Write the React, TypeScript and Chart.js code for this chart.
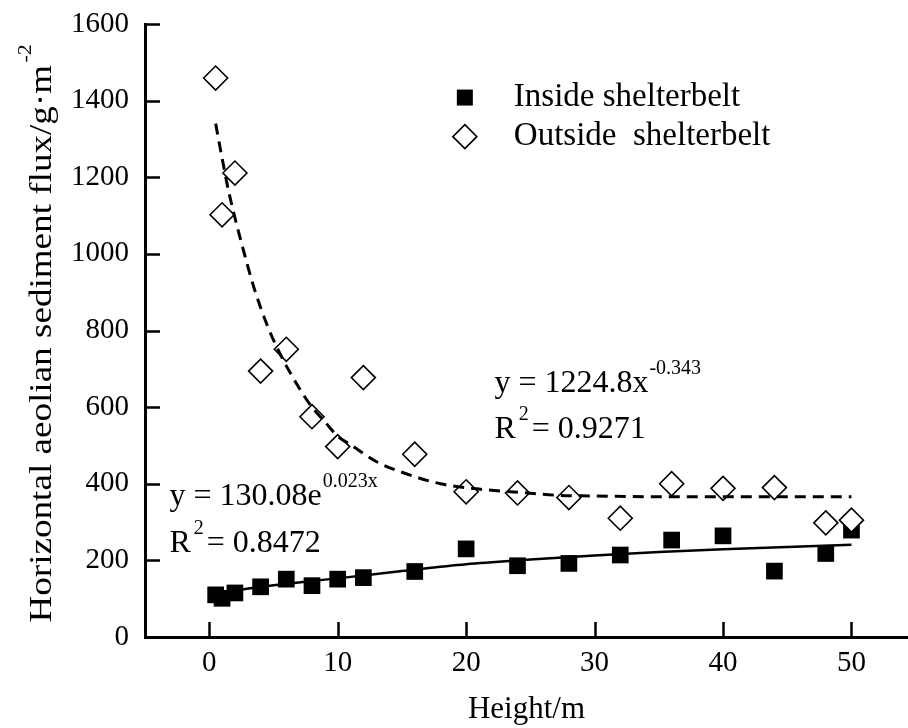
import React, { useEffect, useRef } from "react";
import { Chart, registerables } from "chart.js";

Chart.register(...registerables);

// ---------- data ----------
const HEIGHTS_INSIDE = [0.5, 1, 2, 4, 6, 8, 10, 12, 16, 20, 24, 28, 32, 36, 40, 44, 48, 50];
const FLUX_INSIDE = [110, 101, 115, 131, 151, 134, 151, 155, 171, 230, 186, 192, 214, 253, 264, 172, 218, 279];

const HEIGHTS_OUTSIDE = [0.5, 1, 2, 4, 6, 8, 10, 12, 16, 20, 24, 28, 32, 36, 40, 44, 48, 50];
const FLUX_OUTSIDE = [1459, 1102, 1211, 694, 751, 575, 497, 677, 477, 379, 376, 364, 310, 400, 388, 390, 298, 305];

// trend curves as drawn in the figure
const FIT_INSIDE_X = [0.5, 5, 10, 15, 20, 25, 30, 35, 40, 45, 50];
const FIT_INSIDE_Y = [114, 135, 153, 172, 190, 202, 213, 222, 229, 235, 241];
const FIT_OUTSIDE_X = [0.5, 1, 1.5, 2.5, 3.5, 4.5, 5.5, 7, 8, 9, 10, 11, 13, 15, 18, 21, 24, 27, 30, 35, 40, 50];
const FIT_OUTSIDE_Y = [1340, 1250, 1165, 1030, 910, 815, 740, 650, 600, 562, 524, 502, 458, 430, 400, 386, 378, 370, 368, 366, 366, 366];

const X_TICKS = [0, 10, 20, 30, 40, 50];
const Y_TICKS = [0, 200, 400, 600, 800, 1000, 1200, 1400, 1600];

const LEGEND_LABELS = ["Inside shelterbelt", "Outside  shelterbelt"];
const Y_TITLE = "Horizontal aeolian sediment flux/g\u00b7m";
const Y_TITLE_SUP = "-2";
const X_TITLE = "Height/m";
const EQ_INSIDE = { main: "y = 130.08e", sup: "0.023x", r2: "0.8472" };
const EQ_OUTSIDE = { main: "y = 1224.8x", sup: "-0.343", r2: "0.9271" };

const FONT = "'Liberation Serif', 'Times New Roman', serif";

const toPts = (xs: number[], ys: number[]) => xs.map((x, i) => ({ x, y: ys[i] }));

const decorPlugin = {
  id: "decor",
  afterDraw(chart: any) {
    const ctx = chart.ctx as CanvasRenderingContext2D;
    const xs = chart.scales.x;
    const ys = chart.scales.y;
    const area = chart.chartArea;
    ctx.save();
    // inward tick marks
    ctx.strokeStyle = "#000";
    ctx.lineWidth = 2.5;
    ctx.beginPath();
    Y_TICKS.forEach((v) => {
      const py = Math.round(ys.getPixelForValue(v)) + 0.5;
      ctx.moveTo(area.left, py);
      ctx.lineTo(area.left + 15, py);
    });
    X_TICKS.forEach((v) => {
      const px = Math.round(xs.getPixelForValue(v)) + 0.5;
      ctx.moveTo(px, area.bottom);
      ctx.lineTo(px, area.bottom - 15);
    });
    ctx.stroke();

    ctx.fillStyle = "#000";
    // y title with superscript (slightly stretched along its length like the source)
    ctx.save();
    const stretch = 1.16;
    ctx.font = `32px ${FONT}`;
    const mainW = ctx.measureText(Y_TITLE).width;
    ctx.font = `19px ${FONT}`;
    const supW = ctx.measureText(Y_TITLE_SUP).width;
    ctx.translate(40, (area.top + area.bottom) / 2 + 4);
    ctx.rotate(-Math.PI / 2);
    ctx.scale(stretch, 1);
    ctx.textBaseline = "alphabetic";
    ctx.textAlign = "left";
    const start = -(mainW + supW) / 2;
    ctx.font = `32px ${FONT}`;
    ctx.fillText(Y_TITLE, start, 11);
    ctx.font = `19px ${FONT}`;
    ctx.fillText(Y_TITLE_SUP, start + mainW + 2, -9);
    ctx.restore();

    // equations
    const drawEq = (eq: any, xv: number, yv: number, yv2: number) => {
      const px = xs.getPixelForValue(xv);
      const py = ys.getPixelForValue(yv);
      const py2 = ys.getPixelForValue(yv2);
      ctx.textAlign = "left";
      ctx.textBaseline = "alphabetic";
      ctx.font = `32px ${FONT}`;
      ctx.fillText(eq.main, px, py);
      const w = ctx.measureText(eq.main).width;
      ctx.font = `20px ${FONT}`;
      ctx.fillText(eq.sup, px + w + 1, py - 18);
      ctx.font = `32px ${FONT}`;
      ctx.fillText("R", px, py2);
      const rw = ctx.measureText("R").width;
      ctx.font = `20px ${FONT}`;
      ctx.fillText("2", px + rw + 3, py2 - 18);
      ctx.font = `32px ${FONT}`;
      ctx.fillText("= " + eq.r2, px + rw + 16, py2);
    };
    drawEq(EQ_INSIDE, -3.1, 344, 222);
    drawEq(EQ_OUTSIDE, 22.2, 640, 520);

    // legend
    const lx = xs.getPixelForValue(19.9);
    const ly1 = ys.getPixelForValue(1408);
    const ly2 = ys.getPixelForValue(1306);
    const ds0 = chart.data.datasets[0];
    const ds1 = chart.data.datasets[1];
    ctx.fillStyle = ds0.backgroundColor;
    ctx.fillRect(lx - 8, ly1 - 8, 16, 16);
    ctx.beginPath();
    ctx.moveTo(lx, ly2 - 12);
    ctx.lineTo(lx + 12, ly2);
    ctx.lineTo(lx, ly2 + 12);
    ctx.lineTo(lx - 12, ly2);
    ctx.closePath();
    ctx.fillStyle = ds1.backgroundColor;
    ctx.fill();
    ctx.strokeStyle = ds1.borderColor;
    ctx.lineWidth = ds1.borderWidth;
    ctx.stroke();
    ctx.fillStyle = "#000";
    ctx.font = `33px ${FONT}`;
    ctx.textBaseline = "middle";
    ctx.fillText(LEGEND_LABELS[0], lx + 49, ly1);
    ctx.fillText(LEGEND_LABELS[1], lx + 49, ly2);
    ctx.restore();
  },
};

export default function App() {
  const ref = useRef<HTMLCanvasElement | null>(null);
  useEffect(() => {
    document.body.style.margin = "0";
    const canvas = ref.current;
    if (!canvas) return;
    const chart = new Chart(canvas, {
      type: "scatter",
      data: {
        datasets: [
          {
            label: LEGEND_LABELS[0],
            data: toPts(HEIGHTS_INSIDE, FLUX_INSIDE),
            pointStyle: "rect",
            pointRadius: 11.8,
            backgroundColor: "#000",
            borderColor: "#000",
            borderWidth: 0,
            order: 4,
          },
          {
            label: LEGEND_LABELS[1],
            data: toPts(HEIGHTS_OUTSIDE, FLUX_OUTSIDE),
            pointStyle: "rectRot",
            pointRadius: 12,
            backgroundColor: "#fff",
            borderColor: "#000",
            borderWidth: 1.6,
            order: 3,
          },
          {
            type: "line",
            label: "fit inside",
            data: toPts(FIT_INSIDE_X, FIT_INSIDE_Y),
            borderColor: "#000",
            borderWidth: 2.5,
            pointRadius: 0,
            showLine: true,
            cubicInterpolationMode: "monotone",
            fill: false,
            order: 2,
          } as any,
          {
            type: "line",
            label: "fit outside",
            data: toPts(FIT_OUTSIDE_X, FIT_OUTSIDE_Y),
            borderColor: "#000",
            borderWidth: 3,
            borderDash: [11, 7],
            pointRadius: 0,
            showLine: true,
            cubicInterpolationMode: "monotone",
            fill: false,
            order: 1,
          } as any,
        ],
      },
      options: {
        responsive: false,
        animation: false,
        devicePixelRatio: 1,
        layout: { autoPadding: false, padding: { top: 24, right: 0, left: 0, bottom: 0 } },
        plugins: {
          legend: { display: false },
          tooltip: { enabled: false },
          title: { display: false },
        },
        scales: {
          x: {
            type: "linear",
            min: -5,
            max: 54.4,
            afterBuildTicks: (s: any) => {
              s.ticks = X_TICKS.map((v) => ({ value: v }));
            },
            afterFit: (s: any) => {
              s.height = 91;
              s.paddingLeft = 0;
              s.paddingRight = 0;
            },
            grid: { display: false, drawTicks: false },
            border: { display: true, color: "#000", width: 3 },
            ticks: {
              padding: 9,
              color: "#000",
              font: { family: FONT, size: 29 },
              maxRotation: 0,
              autoSkip: false,
              callback: (v: any) => String(v),
            },
            title: {
              display: true,
              text: X_TITLE,
              color: "#000",
              font: { family: FONT, size: 31 },
              padding: { top: 0, bottom: 0 },
            },
          },
          y: {
            type: "linear",
            min: 0,
            max: 1600,
            afterBuildTicks: (s: any) => {
              s.ticks = Y_TICKS.map((v) => ({ value: v }));
            },
            afterFit: (s: any) => {
              s.width = 145;
              s.paddingTop = 0;
              s.paddingBottom = 0;
            },
            grid: { display: false, drawTicks: false },
            border: { display: true, color: "#000", width: 3 },
            ticks: {
              padding: 16,
              color: "#000",
              font: { family: FONT, size: 29 },
              autoSkip: false,
              callback: (v: any) => String(v),
            },
          },
        },
      },
      plugins: [decorPlugin],
    });
    return () => chart.destroy();
  }, []);
  return (
    <div style={{ width: 908, height: 728, background: "#fff" }}>
      <canvas ref={ref} width={908} height={728} style={{ width: 908, height: 728, display: "block" }} />
    </div>
  );
}
